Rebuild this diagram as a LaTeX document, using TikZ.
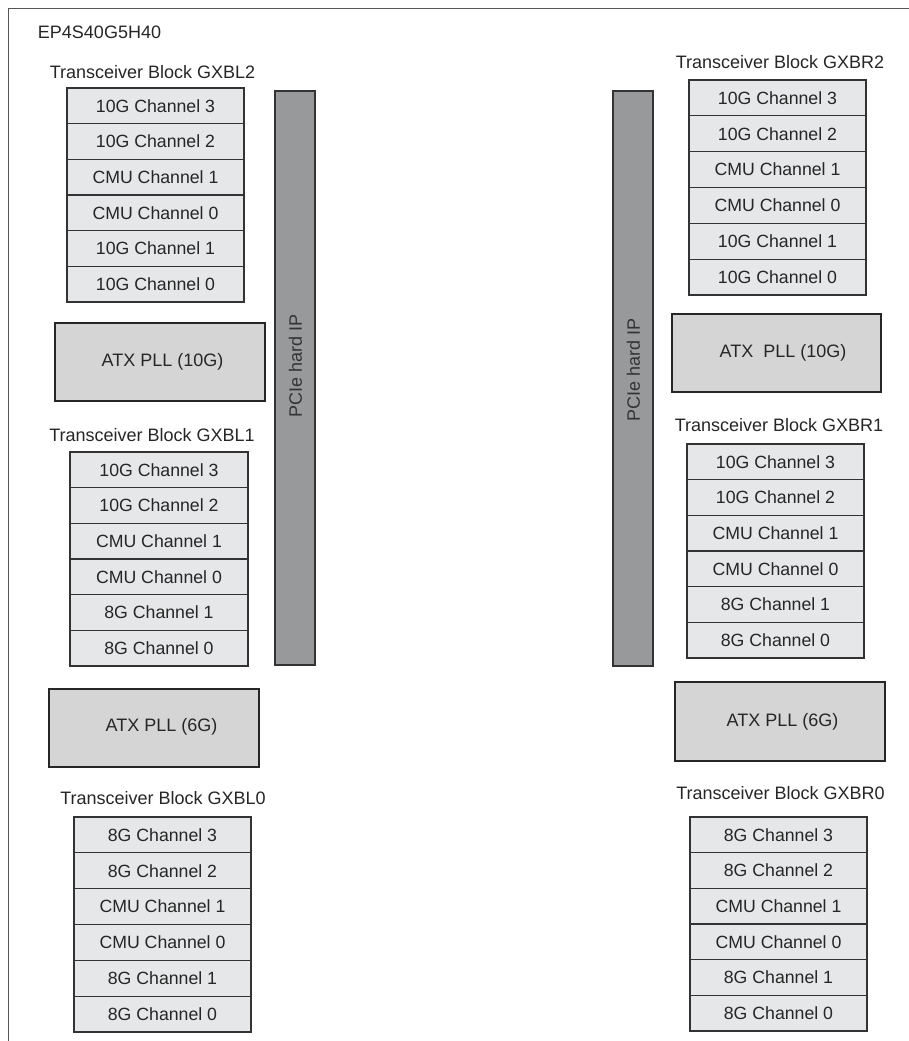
\documentclass[tikz,border=0pt]{standalone}
\usepackage{fontspec}
\setmainfont{Liberation Sans}
\definecolor{chanfill}{HTML}{E6E7E8}
\definecolor{atxfill}{HTML}{D5D5D5}
\definecolor{pciefill}{HTML}{98999B}
\definecolor{edge}{HTML}{333333}
\definecolor{ink}{HTML}{262626}
\definecolor{frame}{HTML}{555555}
\newcommand\chstack[6]{%
  \pgfmathsetmacro\stw{#3-#2}%
  \pgfmathsetmacro\sth{(#5-#4)/6}%
  \foreach \t [count=\i] in {#6} {%
    \node[chan, minimum width=\stw pt, minimum height=\sth pt] (#1-\i)
      at ({(#2+#3)/2}, {#4+(\i-0.5)*\sth}) {\t};
  }%
}
\begin{document}
\begin{tikzpicture}[x=1pt, y=-1pt,
  txt/.style={text=ink, font=\fontsize{18}{21}\selectfont, inner sep=0pt},
  chan/.style={draw=edge, line width=1.1pt, fill=chanfill, text=ink,
    font=\fontsize{17.7}{20}\selectfont, inner sep=0pt},
  atx/.style={draw=black!85, line width=1.2pt, fill=atxfill, inner sep=0pt},
  pcie/.style={draw=edge, line width=1.1pt, fill=pciefill, inner sep=0pt},
  framel/.style={draw=frame, line width=1.2pt}]
\useasboundingbox (0,0) rectangle (909,1041);
\coordinate (ftr) at (909,8.5);
\coordinate (ftl) at (8.5,8.5);
\coordinate (fbl) at (8.5,1041);
\draw[framel] (ftr) -- (ftl) -- (fbl);
\node[txt] (title) at (99.5,32) {EP4S40G5H40};

% PCIe bars
\node[pcie, minimum width=40pt, minimum height=574pt] (pcieL) at (295,378) {};
\node[txt, rotate=90, text=edge] (pcieLt) at (295.5,366) {PCIe hard IP};
\node[pcie, minimum width=40pt, minimum height=575pt] (pcieR) at (633,378.5) {};
\node[txt, rotate=90, text=edge] (pcieRt) at (633.5,370) {PCIe hard IP};

% Left side
\node[txt] (lblL2) at (152.5,72) {Transceiver Block GXBL2};
\chstack{L2}{67}{244}{88}{302}{10G Channel 3,10G Channel 2,CMU Channel 1,CMU Channel 0,10G Channel 1,10G Channel 0}
\node[atx, minimum width=210pt, minimum height=78pt] (atxL10) at (160,362) {};
\node[txt] (atxL10t) at (162.5,362) {ATX PLL (10G)};
\node[txt] (lblL1) at (152,435) {Transceiver Block GXBL1};
\chstack{L1}{70}{248}{452}{666}{10G Channel 3,10G Channel 2,CMU Channel 1,CMU Channel 0,8G Channel 1,8G Channel 0}
\node[atx, minimum width=210pt, minimum height=78pt] (atxL6) at (154,728) {};
\node[txt] (atxL6t) at (161.5,727) {ATX PLL (6G)};
\node[txt] (lblL0) at (163,798) {Transceiver Block GXBL0};
\chstack{L0}{74}{251}{817}{1032}{8G Channel 3,8G Channel 2,CMU Channel 1,CMU Channel 0,8G Channel 1,8G Channel 0}

% Right side
\node[txt] (lblR2) at (780,62) {Transceiver Block GXBR2};
\chstack{R2}{689}{866}{80}{295}{10G Channel 3,10G Channel 2,CMU Channel 1,CMU Channel 0,10G Channel 1,10G Channel 0}
\node[atx, minimum width=209pt, minimum height=78pt] (atxR10) at (776.5,353) {};
\node[txt] (atxR10t) at (783,353) {ATX~~PLL (10G)};
\node[txt] (lblR1) at (779,425) {Transceiver Block GXBR1};
\chstack{R1}{687}{864}{444}{658}{10G Channel 3,10G Channel 2,CMU Channel 1,CMU Channel 0,8G Channel 1,8G Channel 0}
\node[atx, minimum width=210pt, minimum height=79pt] (atxR6) at (780,721.5) {};
\node[txt] (atxR6t) at (782.5,721.5) {ATX PLL (6G)};
\node[txt] (lblR0) at (780.5,793) {Transceiver Block GXBR0};
\chstack{R0}{690}{867}{817}{1031}{8G Channel 3,8G Channel 2,CMU Channel 1,CMU Channel 0,8G Channel 1,8G Channel 0}
\end{tikzpicture}
\end{document}
